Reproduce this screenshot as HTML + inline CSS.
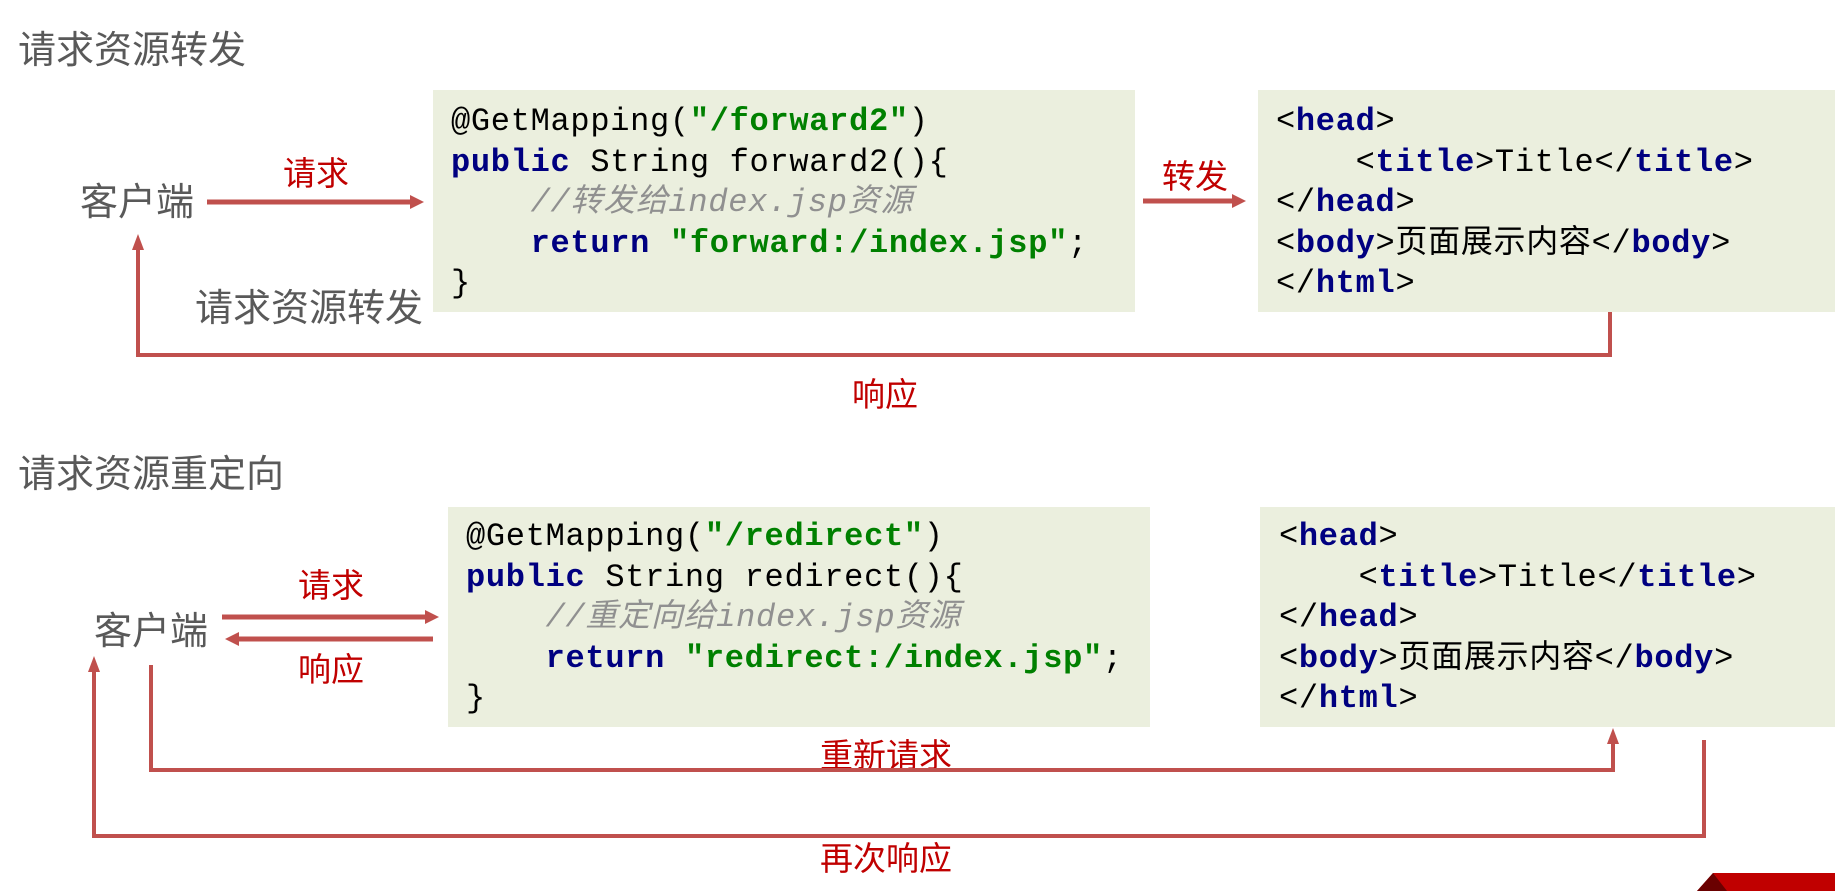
<!DOCTYPE html>
<html><head><meta charset="utf-8"><style>
body{margin:0;width:1835px;height:891px;background:#fff;position:relative;overflow:hidden;font-family:"Liberation Sans","Noto Sans CJK SC",sans-serif}
.a{position:absolute;white-space:nowrap}
.t{color:#595959;font-size:38px;line-height:38px}
.r{color:#c00000;font-size:33px;line-height:33px}
.box{position:absolute;background:#ebefde}
.code{position:absolute;font-family:"Liberation Mono","Noto Sans CJK SC",monospace;font-size:32px;letter-spacing:0.7px;color:#000;white-space:pre;line-height:40.5px}
.k{color:#000080;font-weight:bold}
.s{color:#008000;font-weight:bold}
.c{color:#909090;font-style:italic}
</style></head><body>
<div class="a t" style="left:18px;top:32px">请求资源转发</div>
<div class="box" style="left:433px;top:90px;width:702px;height:222px"></div>
<div class="box" style="left:1258px;top:90px;width:577px;height:222px"></div>
<div class="code" style="left:451px;top:102px">@GetMapping(<span class="s">"/forward2"</span>)
<span class="k">public</span> String forward2(){
    <span class="c">//转发给index.jsp资源</span>
    <span class="k">return</span> <span class="s">"forward:/index.jsp"</span>;
}</div>
<div class="code" style="left:1276px;top:102px">&lt;<span class="k">head</span>&gt;
    &lt;<span class="k">title</span>&gt;Title&lt;/<span class="k">title</span>&gt;
&lt;/<span class="k">head</span>&gt;
&lt;<span class="k">body</span>&gt;页面展示内容&lt;/<span class="k">body</span>&gt;
&lt;/<span class="k">html</span>&gt;</div>
<div class="a t" style="left:80px;top:184px">客户端</div>
<div class="a r" style="left:283px;top:157px">请求</div>
<div class="a r" style="left:1162px;top:160px">转发</div>
<div class="a t" style="left:195px;top:290px">请求资源转发</div>
<div class="a r" style="left:852px;top:378px">响应</div>

<div class="a t" style="left:18px;top:456px">请求资源重定向</div>
<div class="box" style="left:448px;top:507px;width:702px;height:220px"></div>
<div class="box" style="left:1260px;top:507px;width:575px;height:220px"></div>
<div class="code" style="left:466px;top:517px">@GetMapping(<span class="s">"/redirect"</span>)
<span class="k">public</span> String redirect(){
    <span class="c">//重定向给index.jsp资源</span>
    <span class="k">return</span> <span class="s">"redirect:/index.jsp"</span>;
}</div>
<div class="code" style="left:1279px;top:517px">&lt;<span class="k">head</span>&gt;
    &lt;<span class="k">title</span>&gt;Title&lt;/<span class="k">title</span>&gt;
&lt;/<span class="k">head</span>&gt;
&lt;<span class="k">body</span>&gt;页面展示内容&lt;/<span class="k">body</span>&gt;
&lt;/<span class="k">html</span>&gt;</div>
<div class="a t" style="left:94px;top:613px">客户端</div>
<div class="a r" style="left:298px;top:569px">请求</div>
<div class="a r" style="left:298px;top:653px">响应</div>
<div class="a r" style="left:820px;top:739px">重新请求</div>
<div class="a r" style="left:820px;top:842px">再次响应</div>

<svg class="a" style="left:0;top:0" width="1835" height="891">
<g stroke="#c0504d" stroke-width="5" fill="none">
<line x1="207" y1="202" x2="414" y2="202"/>
<line x1="1143" y1="201" x2="1236" y2="201"/>
<polyline points="1610,312 1610,355 138,355 138,246" stroke-width="4"/>
<line x1="222" y1="617" x2="429" y2="617"/>
<line x1="433" y1="639" x2="235" y2="639"/>
<polyline points="151,665 151,770 1613,770 1613,740" stroke-width="4"/>
<polyline points="1704,740 1704,836 94,836 94,668" stroke-width="4"/>
</g>
<g fill="#c0504d">
<polygon points="424,202 410,195 410,209"/>
<polygon points="1246,201 1232,194 1232,208"/>
<polygon points="138,234 132,250 144,250"/>
<polygon points="439,617 425,610 425,624"/>
<polygon points="225,639 239,632 239,646"/>
<polygon points="1613,728 1607,744 1619,744"/>
<polygon points="94,656 88,672 100,672"/>
</g>
<polygon points="1713,873 1835,873 1835,891 1697,891" fill="#c00000"/>
<polygon points="1713,873 1727,891 1697,891" fill="#6a0000"/>
</svg>
</body></html>
